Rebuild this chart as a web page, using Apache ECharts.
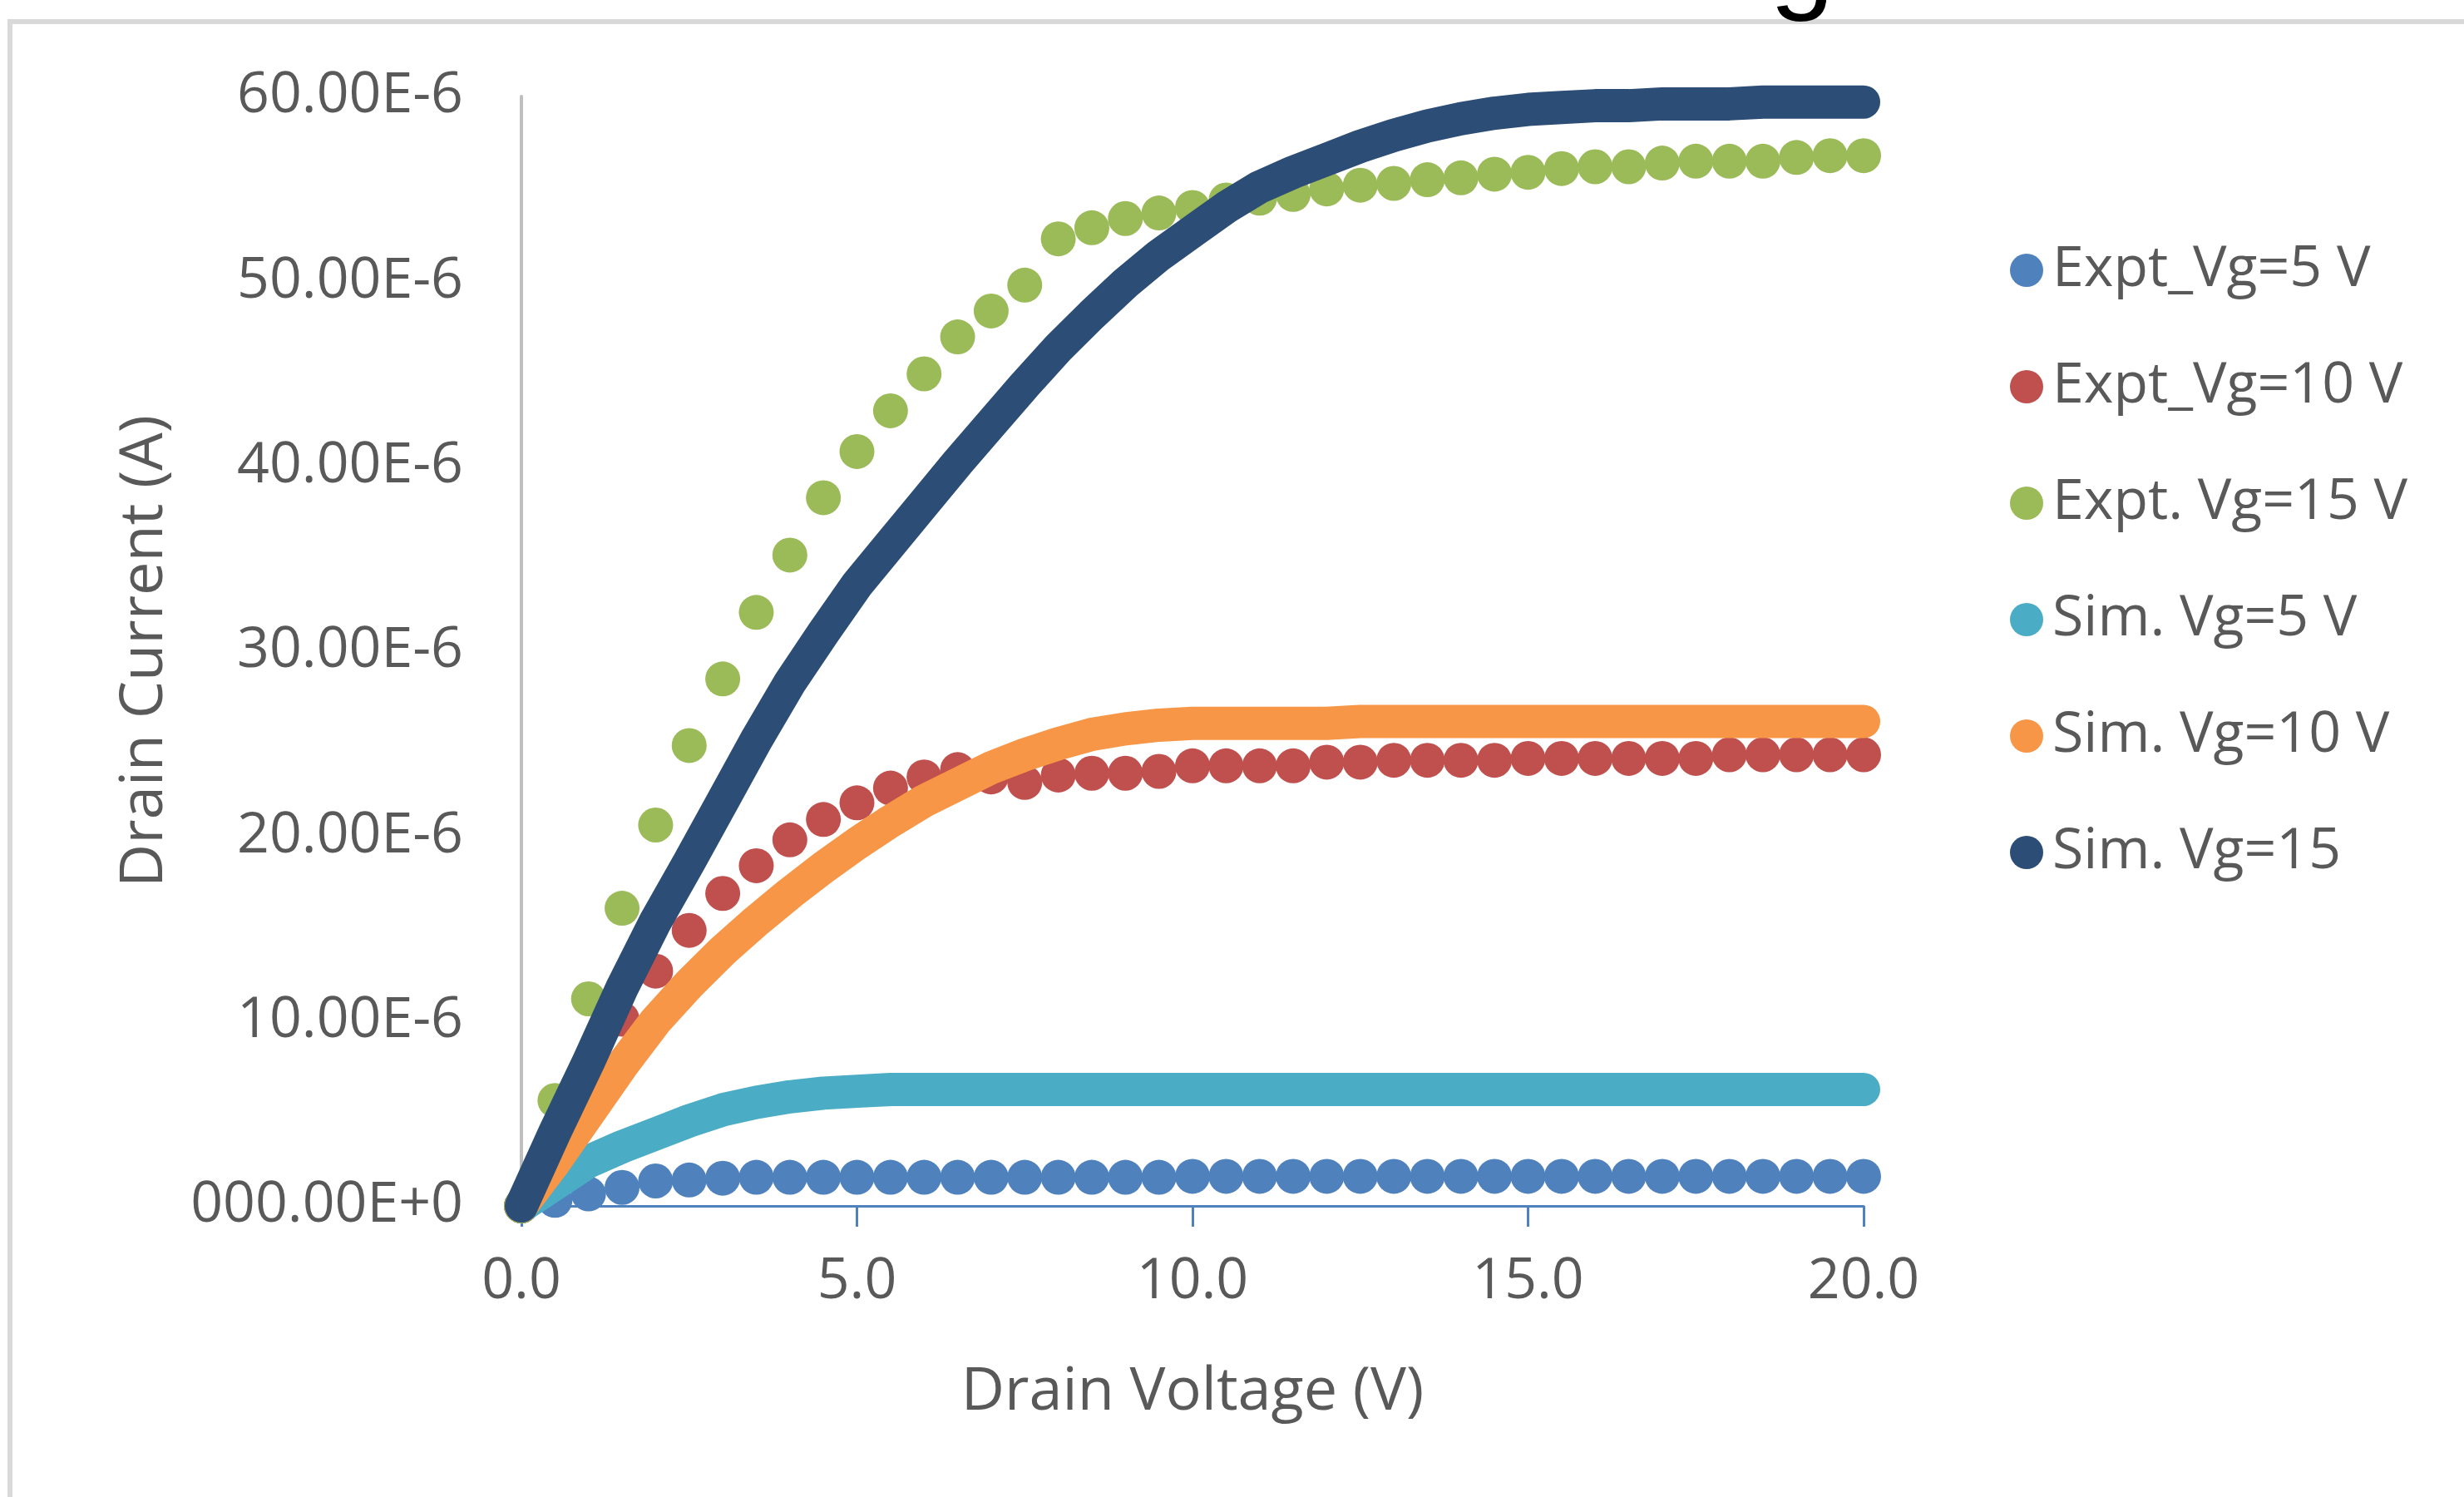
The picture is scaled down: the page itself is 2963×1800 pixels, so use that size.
<!DOCTYPE html>
<html>
<head>
<meta charset="utf-8">
<title>Drain Current vs Drain Voltage</title>
<script src="https://cdn.jsdelivr.net/npm/echarts@6/dist/echarts.min.js"></script>
<style>
  html, body { margin: 0; padding: 0; background: #fff; }
  #chart { width: 2963px; height: 1800px; }
</style>
</head>
<body>
<div id="chart"></div>
<script>
// drain voltage sweep (V), one point every 0.5 V
var drainVoltage = [0, 0.5, 1, 1.5, 2, 2.5, 3, 3.5, 4, 4.5, 5, 5.5, 6, 6.5, 7, 7.5, 8, 8.5, 9, 9.5,
  10, 10.5, 11, 11.5, 12, 12.5, 13, 13.5, 14, 14.5, 15, 15.5, 16, 16.5, 17, 17.5, 18, 18.5, 19, 19.5, 20];

// drain current in units of 1E-6 A
var exptVg5 = [0, 0.3, 0.65, 1.0, 1.35, 1.4, 1.5, 1.55, 1.55, 1.55, 1.55, 1.55, 1.55, 1.55, 1.55, 1.55,
  1.55, 1.55, 1.55, 1.55, 1.6, 1.6, 1.6, 1.6, 1.6, 1.6, 1.6, 1.6, 1.6, 1.6, 1.6, 1.6, 1.6, 1.6, 1.6,
  1.6, 1.6, 1.6, 1.6, 1.6, 1.6];
var exptVg10 = [0, 3.3, 6.9, 10.1, 12.7, 14.9, 16.9, 18.4, 19.8, 20.9, 21.8, 22.6, 23.2, 23.6, 23.2,
  22.9, 23.3, 23.4, 23.4, 23.5, 23.8, 23.8, 23.8, 23.8, 24.0, 24.0, 24.1, 24.1, 24.1, 24.1, 24.2, 24.2,
  24.2, 24.2, 24.2, 24.2, 24.4, 24.4, 24.4, 24.4, 24.4];
var exptVg15 = [0, 5.7, 11.2, 16.1, 20.6, 24.9, 28.5, 32.1, 35.2, 38.3, 40.8, 43.0, 45.0, 47.0, 48.4,
  49.8, 52.3, 52.9, 53.4, 53.7, 54.0, 54.4, 54.5, 54.7, 55.0, 55.2, 55.3, 55.5, 55.6, 55.8, 55.9, 56.1,
  56.2, 56.2, 56.4, 56.5, 56.5, 56.5, 56.7, 56.8, 56.8];
var simVg5 = [0, 1.2, 2.4, 3.2, 3.9, 4.6, 5.2, 5.6, 5.9, 6.1, 6.2, 6.3, 6.3, 6.3, 6.3, 6.3, 6.3, 6.3,
  6.3, 6.3, 6.3, 6.3, 6.3, 6.3, 6.3, 6.3, 6.3, 6.3, 6.3, 6.3, 6.3, 6.3, 6.3, 6.3, 6.3, 6.3, 6.3, 6.3,
  6.3, 6.3, 6.3];
var simVg10 = [0, 2.4, 5.0, 7.6, 10.0, 12.0, 13.8, 15.4, 16.9, 18.3, 19.6, 20.8, 21.9, 22.8, 23.7, 24.4,
  25.0, 25.5, 25.8, 26.0, 26.1, 26.1, 26.1, 26.1, 26.1, 26.2, 26.2, 26.2, 26.2, 26.2, 26.2, 26.2, 26.2,
  26.2, 26.2, 26.2, 26.2, 26.2, 26.2, 26.2, 26.2];
var simVg15 = [0, 4.0, 7.8, 11.8, 15.4, 18.6, 21.9, 25.2, 28.3, 31.0, 33.6, 35.8, 38.0, 40.2, 42.3,
  44.4, 46.4, 48.2, 49.9, 51.4, 52.7, 54.0, 55.1, 55.9, 56.6, 57.3, 57.9, 58.4, 58.8, 59.1, 59.3, 59.4,
  59.5, 59.5, 59.6, 59.6, 59.6, 59.7, 59.7, 59.7, 59.7];

var seriesNames = ['Expt_Vg=5 V', 'Expt_Vg=10 V', 'Expt. Vg=15 V', 'Sim. Vg=5 V', 'Sim. Vg=10 V', 'Sim. Vg=15'];
var seriesColors = ['#4f81bd', '#c0504d', '#9bbb59', '#4bacc6', '#f79646', '#2c4d75'];

// tick labels
var currentTicks = ['000.00E+0', '10.00E-6', '20.00E-6', '30.00E-6', '40.00E-6', '50.00E-6', '60.00E-6'];
var voltageTicks = ['0.0', '5.0', '10.0', '15.0', '20.0'];

var font = '"Open Sans", "Liberation Sans", sans-serif';
var textColor = '#595959';

function pairs(ys) {
  return drainVoltage.map(function (v, i) { return [v, ys[i]]; });
}

function exptSeries(k, ys) {
  return {
    name: seriesNames[k],
    type: 'scatter',
    data: pairs(ys),
    symbol: 'circle',
    symbolSize: 42,
    clip: false,
    itemStyle: { color: seriesColors[k], opacity: 1 }
  };
}

// the simulated curves are dense marker runs in the original, drawn here as a thick line
function simSeries(k, ys) {
  return {
    name: seriesNames[k],
    type: 'line',
    data: pairs(ys),
    symbol: 'none',
    showSymbol: false,
    smooth: false,
    clip: false,
    itemStyle: { color: seriesColors[k] },
    lineStyle: { color: seriesColors[k], width: 40, cap: 'round', join: 'round' }
  };
}

var myChart = echarts.init(document.getElementById('chart'), null, { renderer: 'canvas' });

myChart.setOption({
  backgroundColor: '#ffffff',
  animation: false,
  textStyle: { fontFamily: font },
  grid: { left: 627, right: 722, top: 116, bottom: 350 },
  legend: {
    orient: 'vertical',
    left: 2412,
    top: 285,
    icon: 'circle',
    itemWidth: 52,
    itemHeight: 40,
    itemGap: 70,
    data: seriesNames,
    textStyle: { fontSize: 68, color: textColor, fontFamily: font, lineHeight: 70 }
  },
  xAxis: {
    type: 'value',
    min: 0,
    max: 20,
    interval: 5,
    name: 'Drain Voltage (V)',
    nameLocation: 'middle',
    nameGap: 188,
    nameTextStyle: { fontSize: 72, color: textColor, fontFamily: font },
    axisLine: { onZero: false, lineStyle: { color: '#4f81bd', width: 3 } },
    axisTick: { length: 25, lineStyle: { color: '#4f81bd', width: 3 } },
    axisLabel: {
      fontSize: 68, color: textColor, fontFamily: font, margin: 58,
      formatter: function (v) { return voltageTicks[Math.round(v / 5)]; }
    },
    splitLine: { show: false }
  },
  yAxis: {
    type: 'value',
    min: 0,
    max: 60,
    interval: 10,
    name: 'Drain Current (A)',
    nameLocation: 'middle',
    nameRotate: 90,
    nameGap: 417,
    nameTextStyle: { fontSize: 72, color: textColor, fontFamily: font },
    axisLine: { show: true, lineStyle: { color: '#bfbfbf', width: 4 } },
    axisTick: { show: false },
    axisLabel: {
      fontSize: 68, color: textColor, fontFamily: font, margin: 70,
      formatter: function (v) { return currentTicks[Math.round(v / 10)]; }
    },
    splitLine: { show: false }
  },
  graphic: [
    // chart frame, cut at the top and left
    { type: 'rect', silent: true, z: 10, shape: { x: 13, y: 23, width: 2950, height: 6 }, style: { fill: '#d9d9d9' } },
    { type: 'rect', silent: true, z: 10, shape: { x: 9, y: 23, width: 6, height: 1777 }, style: { fill: '#d9d9d9' } },
    // descender of the cropped title above the frame
    { type: 'text', silent: true, z: 20, x: 2128, y: -42,
      style: { text: 'g', font: '140px "Liberation Sans"', fill: '#000000', verticalAlign: 'middle' } }
  ],
  series: [
    exptSeries(0, exptVg5),
    exptSeries(1, exptVg10),
    exptSeries(2, exptVg15),
    simSeries(3, simVg5),
    simSeries(4, simVg10),
    simSeries(5, simVg15)
  ]
});
</script>
</body>
</html>
